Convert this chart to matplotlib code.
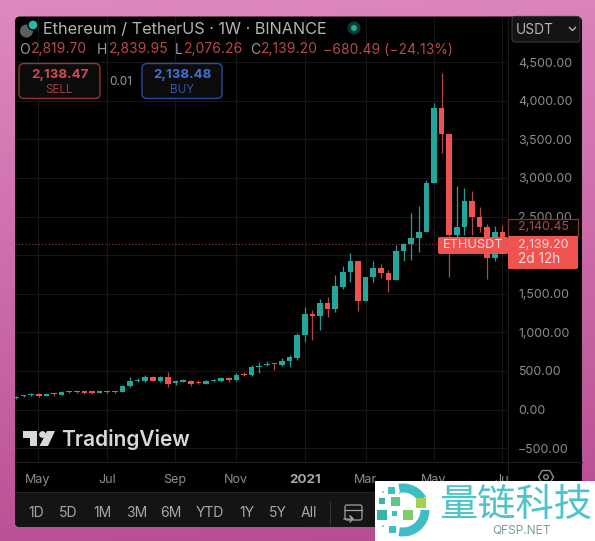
import numpy as np
import matplotlib
matplotlib.use("Agg")
import matplotlib.pyplot as plt
from matplotlib.patches import FancyBboxPatch, Rectangle, Circle, Wedge, Polygon, RegularPolygon

plt.rcParams['font.family'] = ['Inter', 'DejaVu Sans']

opens = [149,170,188,196,175,200,192,222,239,222,222,218,222,231,226,304,365,373,425,369,416,347,360,365,356,334,365,373,403,378,460,442,550,572,593,572,628,
         663,965,1237,1211,1375,1298,1591,1786,1920,1401,1712,1837,1773,1673,2058,2143,2226,2303,2929,3901,3568,2260,2368,2700,2498,2370,1966,2303]
closes = [162,183,200,175,196,196,222,239,222,218,218,222,231,226,304,369,382,425,373,421,330,365,373,334,343,369,378,403,382,451,442,550,563,593,585,628,675,
          965,1237,1211,1375,1298,1600,1786,1920,1401,1712,1837,1773,1673,2058,2140,2217,2303,2938,3901,3568,2260,2368,2700,2498,2370,1966,2303,2139]
highs = [175,187,218,209,209,218,235,248,248,231,239,235,240,240,313,416,403,442,434,434,485,382,390,378,385,380,392,416,416,468,485,576,619,624,602,662,706,
         987,1332,1289,1427,1453,1742,1859,2023,1920,1712,1928,1881,1807,2131,2160,2541,2636,2973,3966,4354,3568,2895,2873,2834,2627,2400,2377,2390]
lows = [140,162,175,162,170,175,183,213,210,205,205,210,218,218,222,291,352,360,365,360,291,317,350,304,325,325,355,360,360,365,430,430,477,559,511,563,546,
        640,879,900,1030,1203,1268,1561,1648,1280,1401,1656,1699,1527,1673,1924,1936,2044,2303,2929,3327,1720,2200,2260,2260,2300,1686,1930,2076]
price_ticks = [-500,0,500,1000,1500,2000,2500,3000,3500,4000,4500]
price_labels = ["\u2212500.00","0.00","500.00","1,000.00","1,500.00","","2,500.00","3,000.00","3,500.00","4,000.00","4,500.00"]
time_ticks = [2.9,12,20.9,28.9,38,46,55,63.9]
time_labels = ["May","Jul","Sep","Nov","2021","Mar","May","Ju"]
ranges = ["1D","5D","1M","3M","6M","YTD","1Y","5Y","All"]

UP, DOWN = "#26a69a", "#ef5350"
W, H = 595, 541
fig = plt.figure(figsize=(W/100, H/100), dpi=100)

def pix_axes(z):
    a = fig.add_axes([0,0,1,1], zorder=z)
    a.set_xlim(0,W); a.set_ylim(H,0); a.axis("off")
    a.patch.set_alpha(0)
    return a

bg = pix_axes(0)
gy, gx = np.mgrid[0:1:60j, 0:1:60j]
c0 = np.array([222,135,190])/255; c1 = np.array([184,78,146])/255
t = np.clip(gy*0.95 + 0.1*gx - 0.02, 0, 1)[..., None]
bg.imshow(c0*(1-t)+c1*t, extent=[0,W,H,0], aspect="auto", zorder=0)
bg.set_xlim(0,W); bg.set_ylim(H,0)
bg.add_patch(FancyBboxPatch((15,16.5),567,510.5, boxstyle="round,pad=0,rounding_size=5", fc="#000000", ec="none", zorder=1))
bg.add_patch(FancyBboxPatch((15,492),567,35, boxstyle="round,pad=0,rounding_size=5", fc="#141414", ec="none", zorder=2))
bg.add_patch(Rectangle((15,492),567,10, fc="#141414", ec="none", zorder=2))
bg.plot([15,582],[491.5,491.5], color="#262626", lw=0.8, zorder=3)
bg.plot([15,582],[462,462], color="#1c1c1c", lw=0.8, zorder=3)
bg.plot([507.5,507.5],[17,491], color="#1c1c1c", lw=0.8, zorder=3)

PX = 0.0772
ax = fig.add_axes([15/W, 1-462/H, 492/W, 445/H], zorder=1)
ax.patch.set_alpha(0)
ax.set_xlim((15-16)/7.6, (507-16)/7.6)
ax.set_ylim((409.5-462)/PX, (409.5-17)/PX)
for s in ax.spines.values():
    s.set_visible(False)
ax.yaxis.tick_right()
ax.set_yticks(price_ticks); ax.set_yticklabels(price_labels)
ax.set_xticks(time_ticks); ax.set_xticklabels(time_labels)
ax.tick_params(axis="y", length=0, pad=8, labelsize=8.9, labelcolor="#8d8d8d")
ax.tick_params(axis="x", length=0, pad=8.5, labelsize=9, labelcolor="#8d8d8d")
for lab in ax.get_xticklabels():
    if lab.get_text() == "2021":
        lab.set_fontweight("bold"); lab.set_color("#a8a8a8"); lab.set_fontsize(9.6)
ax.grid(True, color="#161616", lw=0.8)
ax.set_axisbelow(True)

idx = np.arange(len(opens))
o, c, h, l = map(np.array, (opens, closes, highs, lows))
up = c >= o
ax.vlines(idx[up], l[up], h[up], color="#2a9a90", lw=0.9, zorder=2)
ax.vlines(idx[~up], l[~up], h[~up], color="#b04848", lw=0.9, zorder=2)
bot = np.minimum(o, c); hei = np.maximum(np.abs(c-o), 18)
ax.bar(idx, hei, bottom=bot, width=0.74, color=[UP if u else DOWN for u in up], zorder=3, linewidth=0)
ax.axhline(closes[-1], color="#8a3d3d", lw=0.8, ls=(0,(1,2)), zorder=1)

ov = pix_axes(2)
def T(x, y, s, color="#a8a8a8", size=10, ha="left", va="center", **k):
    return ov.text(x, y, s, color=color, fontsize=size, ha=ha, va=va, **k)

ov.add_patch(Circle((26.5,31),6.5, fc="#5a5f66", ec="none"))
ov.add_patch(Circle((33,25),5, fc="#26b8a6", ec="#0a0a0a", lw=1))
T(43,29,"Ethereum / TetherUS \u00b7 1W \u00b7 BINANCE", color="#b4b4b4", size=11.7)
ov.add_patch(Circle((354,28),6.5, fc="#0d3b36", ec="none"))
ov.add_patch(Circle((354,28),3, fc="#22ab94", ec="none"))
GR, RD = "#9a9a9a", "#b44a4a"
for x, s, col in [(19,"O",GR),(31,"2,819.70",RD),(97,"H",GR),(109,"2,839.95",RD),(175,"L",GR),(184,"2,076.26",RD),
                  (250,"C",GR),(261,"2,139.20",RD),(323,"\u2212680.49 (\u221224.13%)",RD)]:
    T(x,49.5,s,color=col,size=10)

ov.add_patch(FancyBboxPatch((19,63.5),81,35, boxstyle="round,pad=0,rounding_size=5", fc="#0c0c0c", ec="#8f3636", lw=1))
ov.add_patch(FancyBboxPatch((142,63.5),80,35, boxstyle="round,pad=0,rounding_size=5", fc="#0c0c0c", ec="#2b4c9c", lw=1))
T(59.5,75,"2,138.47",color="#d34a50",size=9.6,ha="center",fontweight="bold")
T(59.5,90,"SELL",color="#a03c40",size=8.4,ha="center")
T(182,75,"2,138.48",color="#3f6fd8",size=9.6,ha="center",fontweight="bold")
T(182,90,"BUY",color="#2f55ad",size=8.4,ha="center")
T(121,82,"0.01",color="#9c9c9c",size=8.4,ha="center")

ov.add_patch(FancyBboxPatch((512,16.5),68,25.5, boxstyle="round,pad=0,rounding_size=3", fc="#141414", ec="#333333", lw=0.9))
T(516,29.5,"USDT",color="#b4b4b4",size=9.9)
ov.plot([569.5,572.5,575.5],[27.5,30.5,27.5],color="#b4b4b4",lw=1)

ov.add_patch(Rectangle((508,219),70,16.5, fc="#0a0505", ec="#7a3a34", lw=0.9))
T(518,227.5,"2,140.45",color="#a84a48",size=8.9)
ov.add_patch(FancyBboxPatch((438,237),70,17, boxstyle="round,pad=0,rounding_size=1.5", fc=DOWN, ec="none"))
ov.add_patch(FancyBboxPatch((508,236),70,33, boxstyle="round,pad=0,rounding_size=1.5", fc=DOWN, ec="none"))
T(473,245.5,"ETHUSDT",color="#f6dcdc",size=9.2,ha="center")
T(518,244.5,"2,139.20",color="#f6dcdc",size=8.9)
T(518,259,"2d 12h",color="#f6dcdc",size=9.8)

LG = "#d8d8d8"
ov.add_patch(Polygon([(23,431),(37,431),(37,446),(30,446),(30,438),(23,438)], fc=LG, ec="none"))
ov.add_patch(Circle((42.5,434.5),3.4, fc=LG, ec="none"))
ov.add_patch(Polygon([(47,431),(55,431),(48,446),(39.5,446)], fc=LG, ec="none"))
T(61,440,"TradingView",color=LG,size=15,fontweight="semibold")

ov.add_patch(RegularPolygon((546,477),6,radius=7.5,orientation=np.pi/6,fc="none",ec="#8d8d8d",lw=1))
ov.add_patch(Circle((546,477),2.3,fc="none",ec="#8d8d8d",lw=1))

for x, s in zip([36,68,102,137,171,210,247,278,309], ranges):
    T(x,513,s,color="#a8a8a8",size=10,ha="center")
ov.plot([330,330],[502,525],color="#333333",lw=0.8)
ov.add_patch(FancyBboxPatch((345,505),17,15, boxstyle="round,pad=0,rounding_size=2", fc="none", ec="#a0a0a0", lw=0.9))
ov.plot([345,362],[510,510],color="#a0a0a0",lw=0.9)
ov.plot([344,353,350,353,350],[519,519,516,519,522],color="#a0a0a0",lw=0.9)

ov.add_patch(Rectangle((375,481),220,60, fc="#ffffff", ec="none", zorder=5))
TL = "#3dbdc4"
ov.add_patch(Wedge((403,510),26.5,-100,-30,width=9,fc=TL,ec="none",zorder=6))
ov.add_patch(Wedge((403,510),26.5,0,100,width=9,fc=TL,ec="none",zorder=6))
for x,y,s,col in [(391.7,490.7,7,"#3dbdc4"),(381.7,500.7,6,"#35b5a8"),(395,501.7,9,"#5fc78a"),(421,502.7,10,"#a5d04f"),(408.3,515,10,"#7ecb6a"),
                  (382.3,515,10,"#35b5a8"),(394,513.3,5,"#3dbdc4"),(392.7,529,7,"#3dbdc4"),(383,492,2.5,"#8fd6d6"),(400,493,2.5,"#8fd6d6"),(383,526,2.5,"#8fd6d6")]:
    ov.add_patch(Rectangle((x-s/2,y-s/2),s,s,fc=col,ec="none",zorder=6))
ov.text(515.5,505,"量链科技",color="#4cc4c8",fontsize=27.5,ha="center",va="center",family=["Noto Sans CJK SC","DejaVu Sans"],zorder=6)
ov.text(521.5,530.5,"QFSP.NET",color="#7f9a9e",fontsize=8.6,ha="center",va="center",zorder=6)

fig.savefig("out.png", dpi=100)
